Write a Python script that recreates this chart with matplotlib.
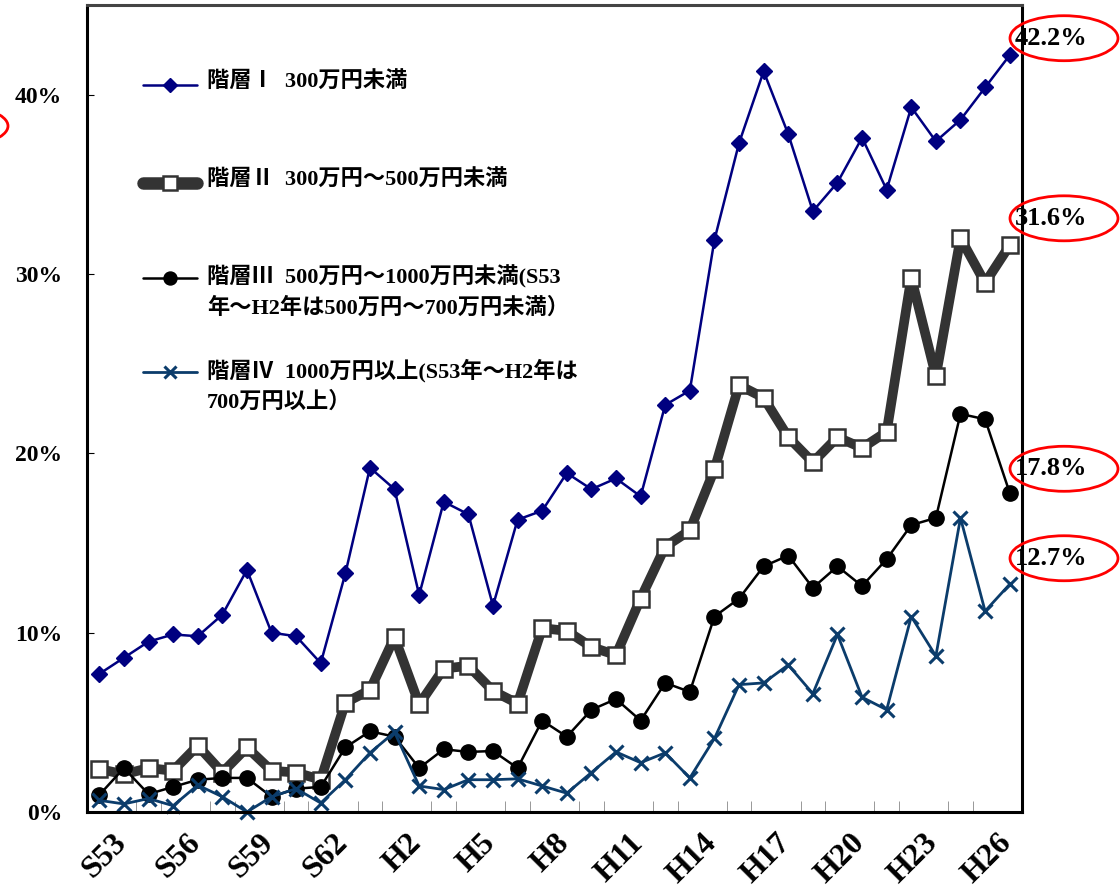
import numpy as np
import matplotlib
matplotlib.use("Agg")
import matplotlib.pyplot as plt
from matplotlib.lines import Line2D
from matplotlib.patches import Ellipse

plt.rcParams["font.family"] = ["Liberation Serif", "Noto Sans CJK JP"]
plt.rcParams["font.weight"] = "bold"

# ============================================
# data (share of households, %)
# ============================================
years = ["S53", "S54", "S55", "S56", "S57", "S58", "S59", "S60", "S61", "S62",
         "S63", "H1", "H2", "H3", "H4", "H5", "H6", "H7", "H8", "H9",
         "H10", "H11", "H12", "H13", "H14", "H15", "H16", "H17", "H18", "H19",
         "H20", "H21", "H22", "H23", "H24", "H25", "H26", "H27"]

tier1 = [7.7, 8.6, 9.5, 9.9, 9.8, 11.0, 13.5, 10.0, 9.8, 8.3,
         13.3, 19.2, 18.0, 12.1, 17.3, 16.6, 11.5, 16.3, 16.8, 18.9,
         18.0, 18.6, 17.6, 22.7, 23.5, 31.9, 37.3, 41.3, 37.8, 33.5,
         35.1, 37.6, 34.7, 39.3, 37.4, 38.6, 40.4, 42.2]
tier2 = [2.4, 2.1, 2.45, 2.3, 3.7, 2.2, 3.6, 2.3, 2.2, 1.8,
         6.1, 6.8, 9.75, 6.0, 8.0, 8.15, 6.75, 6.05, 10.25, 10.1,
         9.2, 8.75, 11.9, 14.8, 15.7, 19.1, 23.8, 23.1, 20.9, 19.5,
         20.9, 20.3, 21.2, 29.8, 24.3, 32.0, 29.5, 31.6]
tier3 = [0.95, 2.45, 1.0, 1.4, 1.8, 1.9, 1.9, 0.85, 1.3, 1.4,
         3.6, 4.5, 4.2, 2.45, 3.5, 3.35, 3.4, 2.45, 5.1, 4.2,
         5.7, 6.3, 5.1, 7.2, 6.7, 10.9, 11.9, 13.7, 14.3, 12.5,
         13.7, 12.6, 14.1, 16.0, 16.4, 22.2, 21.9, 17.8]
tier4 = [0.65, 0.45, 0.75, 0.35, 1.5, 0.85, 0.0, 0.85, 1.3, 0.5,
         1.8, 3.3, 4.45, 1.45, 1.25, 1.8, 1.8, 1.85, 1.45, 1.05,
         2.2, 3.35, 2.75, 3.3, 1.9, 4.1, 7.1, 7.2, 8.2, 6.6,
         9.9, 6.4, 5.7, 10.9, 8.7, 16.4, 11.2, 12.7]

labels = [
    "階層Ⅰ  300万円未満",
    "階層Ⅱ  300万円～500万円未満",
    "階層Ⅲ  500万円～1000万円未満(S53\n年～H2年は500万円～700万円未満）",
    "階層Ⅳ  1000万円以上(S53年～H2年は\n700万円以上）",
]

styles = [
    dict(color="#000080", lw=1.8, marker="D", ms=8, mfc="#000080", mec="#000080"),
    dict(color="#333333", lw=7, marker="s", ms=12, mfc="white", mec="#333333", mew=1.8),
    dict(color="black", lw=1.8, marker="o", ms=11, mfc="black", mec="black"),
    dict(color="#0b3c6b", lw=2.0, marker="x", ms=10, mew=2.2),
]

# ============================================
# plot
# ============================================
W, H = 1120, 893
fig = plt.figure(figsize=(W / 100, H / 100), dpi=100)
ax = fig.add_axes([87 / W, 81 / H, 935 / W, 807 / H])

x = np.arange(len(years))
for vals, st in zip([tier1, tier2, tier3, tier4], styles):
    ax.plot(x, vals, clip_on=False, **st)

ax.set_xlim(-0.5, len(years) - 0.5)
ax.set_ylim(0, 45)

# labels sit just right of each category centre (rotated text hangs down-left)
ax.set_xticks(x[::3] + 0.5)
ax.set_xticklabels(years[::3], rotation=45, ha="right", rotation_mode="anchor",
                   fontsize=23, fontweight="bold")
ax.set_xticks(np.arange(-0.5, len(years), 1), minor=True)
ax.tick_params(axis="x", which="major", length=0, pad=12)
ax.tick_params(axis="x", which="minor", direction="in", length=8, color="#888888")

ax.set_yticks([0, 10, 20, 30, 40])
ax.set_yticklabels([f"{v}%" for v in [0, 10, 20, 30, 40]], fontsize=17, fontweight="bold")
ax.tick_params(axis="y", direction="in", length=5, pad=18)

for s in ax.spines.values():
    s.set_linewidth(2.2)
    s.set_color("black")
ax.spines["top"].set_color("#444444")

# end-point labels with red circles
finals = [tier1[-1], tier2[-1], tier3[-1], tier4[-1]]
lifts = [17, 27, 24, 26]
for v, dy in zip(finals, lifts):
    ax.annotate(f"{v:.1f}%", xy=(x[-1], v), xytext=(5, dy), textcoords="offset pixels",
                ha="left", va="center", fontsize=19, fontweight="bold",
                annotation_clip=False)
    yp = ax.transData.transform((x[-1], v))[1] + dy
    fig.add_artist(Ellipse((1064 / W, yp / H), 108 / W, 45 / H,
                           transform=fig.transFigure, fill=False, ec="red", lw=2))

# stray red circle cut off on the left edge
fig.add_artist(Ellipse((-48 / W, 1 - 126 / H), 112 / W, 42 / H,
                       transform=fig.transFigure, fill=False, ec="red", lw=2))

# legend drawn by hand so the key sits on the first text line
def ax_y(py):
    return (812 - py) / 807

def ax_x(px):
    return (px - 87) / 935

leg_y = [85, 183, 278, 372]
for lab, st, py in zip(labels, styles, leg_y):
    kst = dict(st)
    kst["ms"] = st["ms"] * 0.85
    if st["marker"] == "s":
        kst["lw"] = 9
    ax.add_line(Line2D([ax_x(143), ax_x(170), ax_x(197)], [ax_y(py)] * 3,
                       transform=ax.transAxes, markevery=[1], solid_capstyle="round",
                       **kst))
    ax.text(ax_x(207), ax_y(py - 13), lab, transform=ax.transAxes, ha="left", va="top",
            fontsize=16, fontweight="bold", linespacing=1.55)

fig.savefig("out.png", dpi=100)
